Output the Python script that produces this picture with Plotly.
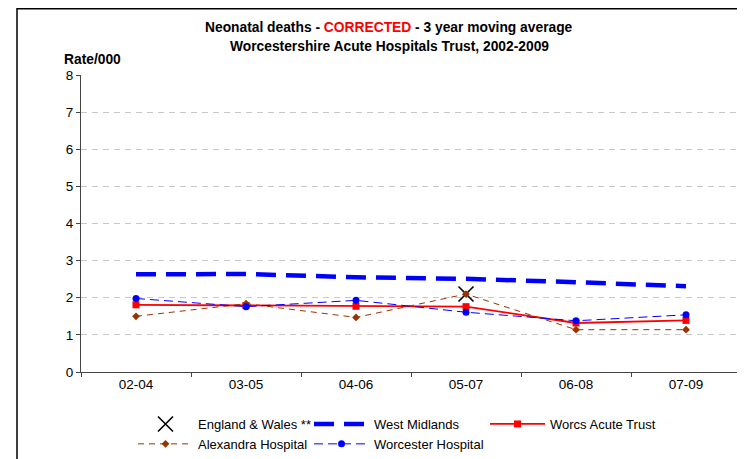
import plotly.graph_objects as go

categories = ["02-04", "03-05", "04-06", "05-07", "06-08", "07-09"]
england_wales = [None, None, None, 2.1, None, None]
west_midlands = [2.63, 2.64, 2.55, 2.51, 2.42, 2.31]
worcs_acute = [1.81, 1.79, 1.77, 1.76, 1.32, 1.39]
alexandra = [1.50, 1.84, 1.47, 2.10, 1.14, 1.14]
worcester = [1.98, 1.76, 1.93, 1.61, 1.38, 1.54]
y_ticks = [0, 1, 2, 3, 4, 5, 6, 7, 8]

FONT = "Liberation Sans, Arial, sans-serif"

# page body has an 8px margin; plot area on screen: x 81..741, y 75..372
fig = go.Figure()
fig.add_trace(go.Scatter(x=categories, y=england_wales, name="England & Wales **",
                         mode="markers",
                         marker=dict(symbol="x-thin", size=15, color="black",
                                     line=dict(color="black", width=1.6))))
fig.add_trace(go.Scatter(x=categories, y=west_midlands, name="West Midlands",
                         mode="lines",
                         line=dict(color="#0000FF", width=4.5, dash="20px,10px")))
fig.add_trace(go.Scatter(x=categories, y=worcs_acute, name="Worcs Acute Trust",
                         mode="lines+markers",
                         line=dict(color="#FF0000", width=1.8),
                         marker=dict(symbol="square", size=7, color="#FF0000")))
fig.add_trace(go.Scatter(x=categories, y=alexandra, name="Alexandra Hospital",
                         mode="lines+markers",
                         line=dict(color="#993300", width=1, dash="6px,5px"),
                         marker=dict(symbol="diamond", size=6, color="#993300")))
fig.add_trace(go.Scatter(x=categories, y=worcester, name="Worcester Hospital",
                         mode="lines+markers",
                         line=dict(color="#0000FF", width=1, dash="9px,5px"),
                         marker=dict(symbol="circle", size=7, color="#0000FF")))

fig.update_layout(
    width=737, height=451,
    margin=dict(l=73, r=4, t=67, b=87, autoexpand=False),
    paper_bgcolor="white", plot_bgcolor="white",
    font=dict(family=FONT, size=12, color="black"),
    showlegend=True,
    legend=dict(orientation="h", x=(133 - 81) / 660, xanchor="left",
                y=(372 - 409) / 297, yanchor="top",
                entrywidth=106, entrywidthmode="pixels", itemwidth=55,
                font=dict(family=FONT, size=13, color="black"),
                bgcolor="rgba(0,0,0,0)", traceorder="normal"),
    xaxis=dict(type="category", range=[-0.5, 5.5], showgrid=False,
               showline=True, linecolor="#444", linewidth=1,
               ticks="outside", tickson="boundaries", ticklen=4, tickcolor="#444",
               tickfont=dict(family=FONT, size=13.5, color="black"), fixedrange=True),
    yaxis=dict(range=[0, 8], tickvals=y_ticks, showgrid=True,
               gridcolor="#C8C8C8", griddash="6px,5px", gridwidth=1,
               showline=True, linecolor="#444", linewidth=1,
               ticks="outside", ticklen=4, tickcolor="#444", zeroline=False,
               tickfont=dict(family=FONT, size=13.5, color="black"), fixedrange=True),
    annotations=[
        dict(text="<b>Neonatal deaths - <span style='color:#FF0000'>CORRECTED</span> - 3 year moving average</b>",
             xref="paper", yref="paper", x=(389 - 81) / 660, y=(372 - 28) / 297,
             xanchor="center", yanchor="middle", showarrow=False,
             font=dict(family=FONT, size=13.8, color="black")),
        dict(text="<b>Worcestershire Acute Hospitals Trust, 2002-2009</b>",
             xref="paper", yref="paper", x=(389 - 81) / 660, y=(372 - 46.5) / 297,
             xanchor="center", yanchor="middle", showarrow=False,
             font=dict(family=FONT, size=13.8, color="black")),
        dict(text="<b>Rate/000</b>",
             xref="paper", yref="paper", x=(62 - 81) / 660, y=(372 - 59) / 297,
             xanchor="left", yanchor="middle", showarrow=False,
             font=dict(family=FONT, size=13.8, color="black")),
    ],
    shapes=[
        dict(type="rect", xref="paper", yref="paper",
             x0=(17 - 81) / 660, x1=(770 - 81) / 660,
             y0=(372 - 480) / 297, y1=(372 - 8.8) / 297,
             line=dict(color="black", width=1.5), fillcolor="rgba(0,0,0,0)", layer="below"),
    ],
)

fig.write_html("out.html")
